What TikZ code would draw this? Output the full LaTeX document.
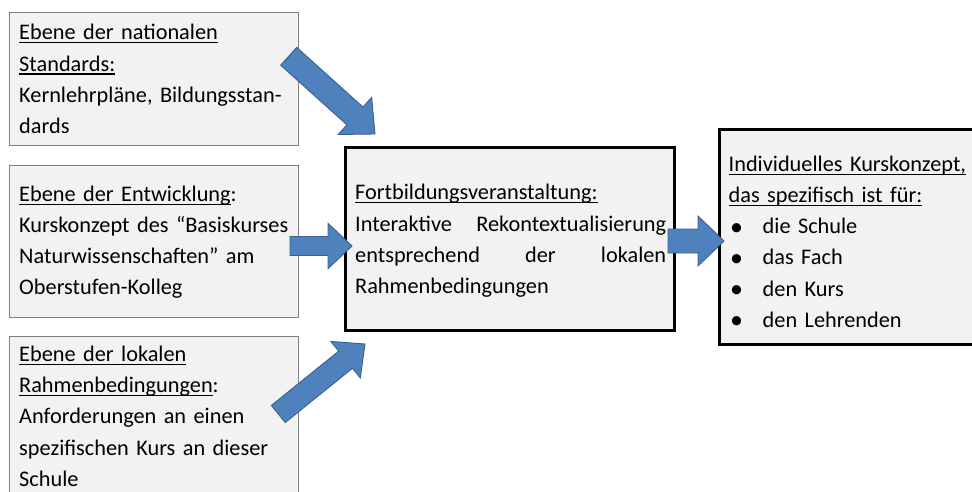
\documentclass[tikz,border=0pt]{standalone}
\usepackage{fontspec}
\setmainfont{Carlito}
\usetikzlibrary{calc}

\definecolor{panelfill}{HTML}{F2F2F2}
\definecolor{panelline}{HTML}{808080}
\definecolor{arrowfill}{HTML}{4F81BD}
\definecolor{arrowline}{HTML}{3B6090}

% underline at a fixed depth below the baseline
\newcommand{\underlined}[1]{\leavevmode\setbox0\hbox{#1}\rlap{\rule[-3.5pt]{\wd0}{1.2pt}}\box0}
% bullet item in the result box
\newcommand{\listitem}[1]{\hspace*{1.5pt}\makebox[32.5pt][l]{\raisebox{-1.2pt}{\fontsize{26}{26}\selectfont\textbullet}}#1}

\tikzset{
  panel/.style={draw=panelline, fill=panelfill, line width=0.8pt, anchor=north west, outer sep=0pt, inner sep=0pt},
  keypanel/.style={panel, draw=black, line width=3.2pt},
  paneltext/.style={anchor=base west, inner sep=0pt, align=left, font=\fontsize{22.3}{31.1}\selectfont},
  blockarrow/.style={fill=arrowfill, draw=arrowline, line width=0.9pt, line join=miter}
}

% block arrow: tail, tip, half shaft, half head, head length
\newcommand{\blockarrow}[5]{%
  \coordinate (headbase) at ($(#2)!#5!(#1)$);
  \filldraw[blockarrow] ($(#1)!#3!90:(#2)$) -- ($(headbase)!#3!90:(#2)$)
    -- ($(headbase)!#4!90:(#2)$) -- (#2) -- ($(headbase)!#4!-90:(#2)$)
    -- ($(headbase)!#3!-90:(#2)$) -- ($(#1)!#3!-90:(#2)$) -- cycle;
}

\begin{document}
\begin{tikzpicture}[x=1pt, y=-1pt]
\useasboundingbox (0,0) rectangle (972,492);

% levels on the left
\node[panel, minimum width=289pt, minimum height=133pt] (national) at (9,12.3) {};
\node[panel, minimum width=289pt, minimum height=152pt] (entwicklung) at (9,165) {};
\node[panel, minimum width=289pt, minimum height=190pt] (lokal) at (9,336) {};

% course and result
\node[keypanel, minimum width=329pt, minimum height=183pt] (fortbildung) at (345.7,147.7) {};
\node[keypanel, minimum width=280pt, minimum height=215.4pt] (kurskonzept) at (719.3,129.3) {};

\node[paneltext, text width=285pt] (nationaltext) at ($(national.north west)+(10,27.7)$)
  {\underlined{Ebene der nationalen}\\ \underlined{Standards:}\\ Kernlehrpläne, Bildungsstan-\\ dards};
\node[paneltext, text width=285pt] (entwicklungtext) at ($(entwicklung.north west)+(10,36.7)$)
  {\underlined{Ebene der Entwicklung}:\\ Kurskonzept des “Basiskurses\\ Naturwissenschaften” am\\ Oberstufen-Kolleg};
\node[paneltext, text width=285pt] (lokaltext) at ($(lokal.north west)+(10,25.7)$)
  {\underlined{Ebene der lokalen}\\ \underlined{Rahmenbedingungen}:\\ Anforderungen an einen\\ spezifischen Kurs an dieser\\ Schule};
\node[paneltext, text width=311pt] (fortbildungtext) at ($(fortbildung.north west)+(9.3,52.3)$)
  {\underlined{Fortbildungsveranstaltung:}\\
   \makebox[311pt][s]{Interaktive\hfill Rekontextualisierung}\\
   \makebox[311pt][s]{entsprechend\hfill der\hfill lokalen}\\
   Rahmenbedingungen};
\node[paneltext, text width=260pt] (kurskonzepttext) at ($(kurskonzept.north west)+(9.2,42.4)$)
  {\underlined{Individuelles Kurskonzept,}\\ \underlined{das spezifisch ist für:}\\
   \listitem{die Schule}\\
   \listitem{das Fach}\\
   \listitem{den Kurs}\\
   \listitem{den Lehrenden}};

% arrows
\coordinate (nationaltail) at ($(national.east)+(-9.3,-22.5)$);
\coordinate (nationaltip) at ($(fortbildung.north west)+(29.3,-13.7)$);
\blockarrow{nationaltail}{nationaltip}{12pt}{25pt}{27pt}

\coordinate (entwicklungtail) at ($(entwicklung.east)+(-8,5)$);
\coordinate (entwicklungtip) at ($(fortbildung.west)+(6.3,6.8)$);
\blockarrow{entwicklungtail}{entwicklungtip}{9.5pt}{22.7pt}{24pt}

\coordinate (lokaltail) at ($(lokal.north east)+(-19.7,78)$);
\coordinate (lokaltip) at ($(fortbildung.south west)+(19.3,13.3)$);
\blockarrow{lokaltail}{lokaltip}{11pt}{23.5pt}{25pt}

\coordinate (fortbildungtail) at ($(fortbildung.east)+(-6.7,1.8)$);
\coordinate (fortbildungtip) at ($(kurskonzept.west)+(4.7,4)$);
\blockarrow{fortbildungtail}{fortbildungtip}{12pt}{25pt}{26pt}

\end{tikzpicture}
\end{document}
